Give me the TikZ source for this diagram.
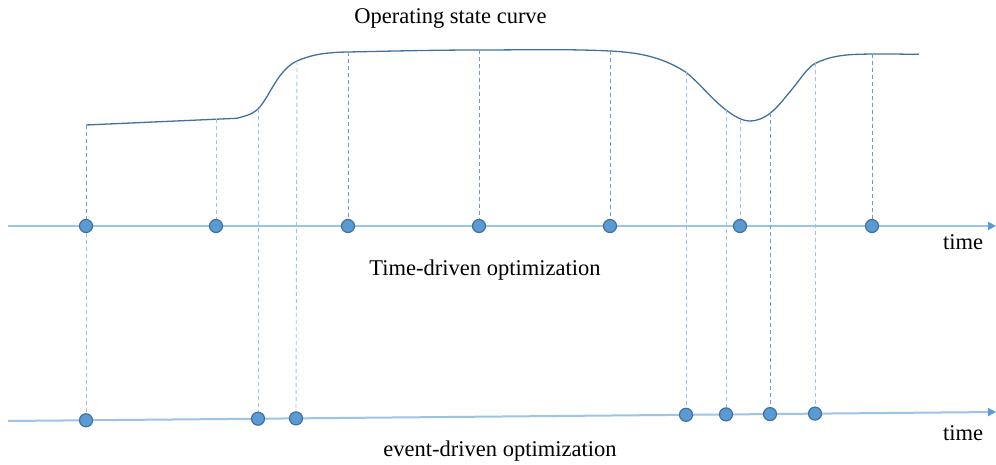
\documentclass[tikz,border=0pt]{standalone}
\usepackage{fontspec}
\setmainfont{Liberation Serif}
\usetikzlibrary{arrows.meta}
\definecolor{dotfill}{HTML}{5B9BD5}
\definecolor{dotedge}{HTML}{41719C}
\definecolor{axisblue}{HTML}{9DC3E6}
\definecolor{curveblue}{HTML}{41719C}
\definecolor{dashdark}{HTML}{6A9BD1}
\definecolor{dashlight}{HTML}{9DC3E6}
\begin{document}
\begin{tikzpicture}[x=1pt,y=-1pt,
  dotnode/.style={circle,fill=dotfill,draw=dotedge,line width=1.2pt,minimum size=13pt,inner sep=0pt},
  axisline/.style={draw=axisblue,line width=2pt,-{Triangle[length=8pt,width=8pt,color=dotfill]}},
  guide/.style={dash pattern=on 4pt off 3pt,line width=0.9pt},
  guidedark/.style={guide,draw=dashdark},
  guidelight/.style={guide,draw=dashlight},
  lbl/.style={font=\fontsize{22.5}{26}\selectfont,anchor=base,inner sep=0pt},
]
\useasboundingbox (0,0) rectangle (996,465);
% axes end points
\coordinate (a1s) at (8,226);
\coordinate (a1e) at (996,226);
\coordinate (a2s) at (8,421);
\coordinate (a2e) at (996,412);
% dot positions, time-driven
\coordinate (t1c) at (86,226);
\coordinate (t2c) at (216,226);
\coordinate (t3c) at (348,226);
\coordinate (t4c) at (479,226);
\coordinate (t5c) at (610,226);
\coordinate (t6c) at (740,226);
\coordinate (t7c) at (872,226);
% dot positions, event-driven
\coordinate (e1c) at (86,420.3);
\coordinate (e2c) at (258,418.7);
\coordinate (e3c) at (296,418.4);
\coordinate (e4c) at (686,414.8);
\coordinate (e5c) at (726,414.4);
\coordinate (e6c) at (770,414.1);
\coordinate (e7c) at (815,413.6);
% points on the curve
\coordinate (c86) at (86,125);
\coordinate (c216) at (216,119.2);
\coordinate (knee) at (236.7,118.3);
\coordinate (c258) at (258,109);
\coordinate (c277) at (277,80);
\coordinate (c296) at (297,61);
\coordinate (c348) at (348,52);
\coordinate (c479) at (479,50);
\coordinate (c610) at (610,51);
\coordinate (c686) at (686,72.3);
\coordinate (c726) at (726,110);
\coordinate (cmin) at (750,121);
\coordinate (c740) at (740,119.6);
\coordinate (c770) at (770,113.3);
\coordinate (c793) at (793,88);
\coordinate (c815) at (815,63.5);
\coordinate (c872) at (872,54);
\coordinate (cend) at (919,54.3);
% axes
\draw[axisline] (a1s) -- (a1e);
\draw[axisline] (a2s) -- (a2e);
% curve
\draw[curveblue,line width=1.3pt,line join=round] (c86) -- (knee)
  .. controls (243.8,116.2) and (250.9,115.4) .. (c258)
  .. controls (264.3,102.7) and (270.7,89.5) .. (c277)
  .. controls (283.7,70) and (290.3,64) .. (c296)
  .. controls (314,53.4) and (331,52.3) .. (c348)
  .. controls (391.7,51.1) and (435.3,50) .. (c479)
  .. controls (522.7,50) and (566.3,48.8) .. (c610)
  .. controls (635.3,52.3) and (660.7,55.8) .. (c686)
  .. controls (699.3,83) and (712.7,100) .. (c726)
  .. controls (734,116) and (742,121) .. (cmin)
  .. controls (756.8,121) and (763.5,118.4) .. (c770)
  .. controls (777.7,107.5) and (785.3,97.2) .. (c793)
  .. controls (800.3,79.2) and (807.7,67.2) .. (c815)
  .. controls (834,54) and (853,54.4) .. (c872)
  .. controls (887.7,53.7) and (903.3,54.3) .. (cend);
% guides
\draw[guidedark] (c86) -- (t1c);
\draw[guidelight] (t1c) -- (e1c);
\draw[guidelight] (c216) -- (t2c);
\draw[guidelight] (c258) -- (e2c);
\draw[guidelight] (c296) -- (e3c);
\draw[guidedark] (c348) -- (t3c);
\draw[guidedark] (c479) -- (t4c);
\draw[guidedark] (c610) -- (t5c);
\draw[guidelight] (c686) -- (e4c);
\draw[guidelight] (c726) -- (e5c);
\draw[guidelight] (c740) -- (t6c);
\draw[guidedark] (c770) -- (e6c);
\draw[guidelight] (c815) -- (e7c);
\draw[guidedark] (c872) -- (t7c);
% dots
\foreach \n in {t1,t2,t3,t4,t5,t6,t7,e1,e2,e3,e4,e5,e6,e7}
  \node[dotnode] (\n) at (\n c) {};
% labels
\node[lbl] (title) at (450.5,24) {Operating state curve};
\node[lbl] (tdo) at (485,275) {Time-driven optimization};
\node[lbl] (edo) at (500,456) {event-driven optimization};
\node[lbl] (time1) at (963,250) {time};
\node[lbl] (time2) at (963,440) {time};
\end{tikzpicture}
\end{document}
